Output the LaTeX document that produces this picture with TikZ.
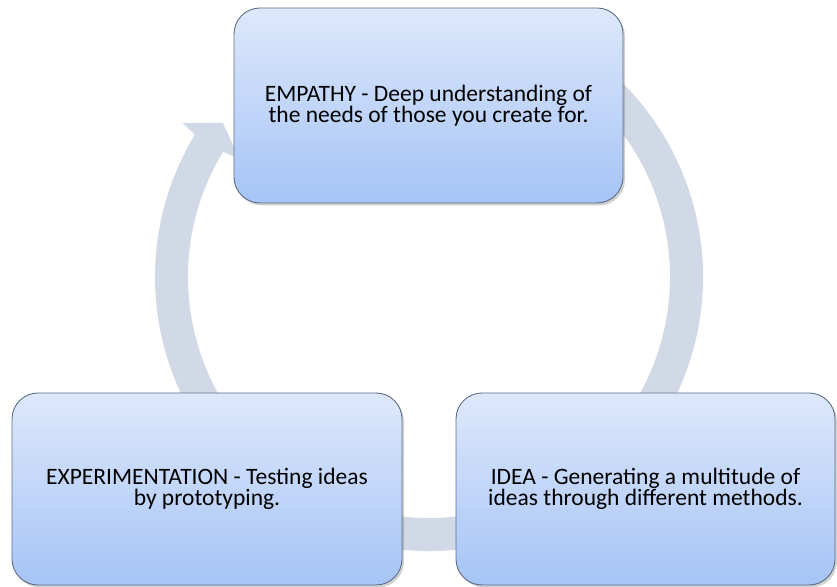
\documentclass[tikz,border=0pt]{standalone}
\usepackage{fontspec}
\setmainfont{Carlito}
\usetikzlibrary{shadows}
\definecolor{ringcol}{HTML}{D1D9E6}
\definecolor{boxtop}{HTML}{DDE8FB}
\definecolor{boxbot}{HTML}{A6C4F6}
\definecolor{boxline}{HTML}{5F6E85}
\tikzset{
  stage/.style={draw=boxline, line width=0.9pt, rounded corners=26pt,
    top color=boxtop, bottom color=boxbot,
    minimum width=#1, minimum height=192pt, inner sep=0pt, align=center,
    font=\fontsize{23.5}{21.5}\selectfont,
    drop shadow={shadow xshift=2pt, shadow yshift=-2.5pt, opacity=0.3, fill=black!60}},
  ring/.style={fill=ringcol}
}
\begin{document}
\begin{tikzpicture}[x=1pt,y=1pt]
\useasboundingbox (0,0) rectangle (837,586);
\begin{scope}[shift={(429,309)}]
\fill[ring] (70:274) arc[start angle=70,end angle=-211.3,radius=274]
  -- (148:291) -- (143.2:257.5) -- (148:224) -- (148.7:241)
  arc[start angle=-211.3,end angle=70,radius=241] -- cycle;
\end{scope}
\node[stage=389pt, minimum height=195pt] (emp) at (428.5,480.5) {EMPATHY - Deep understanding of\\the needs of those you create for.};
\node[stage=390pt] (exp) at (207,97) {EXPERIMENTATION - Testing ideas\\by prototyping.};
\node[stage=379pt] (idea) at (645.5,97) {IDEA - Generating a multitude of\\ideas through different methods.};
\end{tikzpicture}
\end{document}
